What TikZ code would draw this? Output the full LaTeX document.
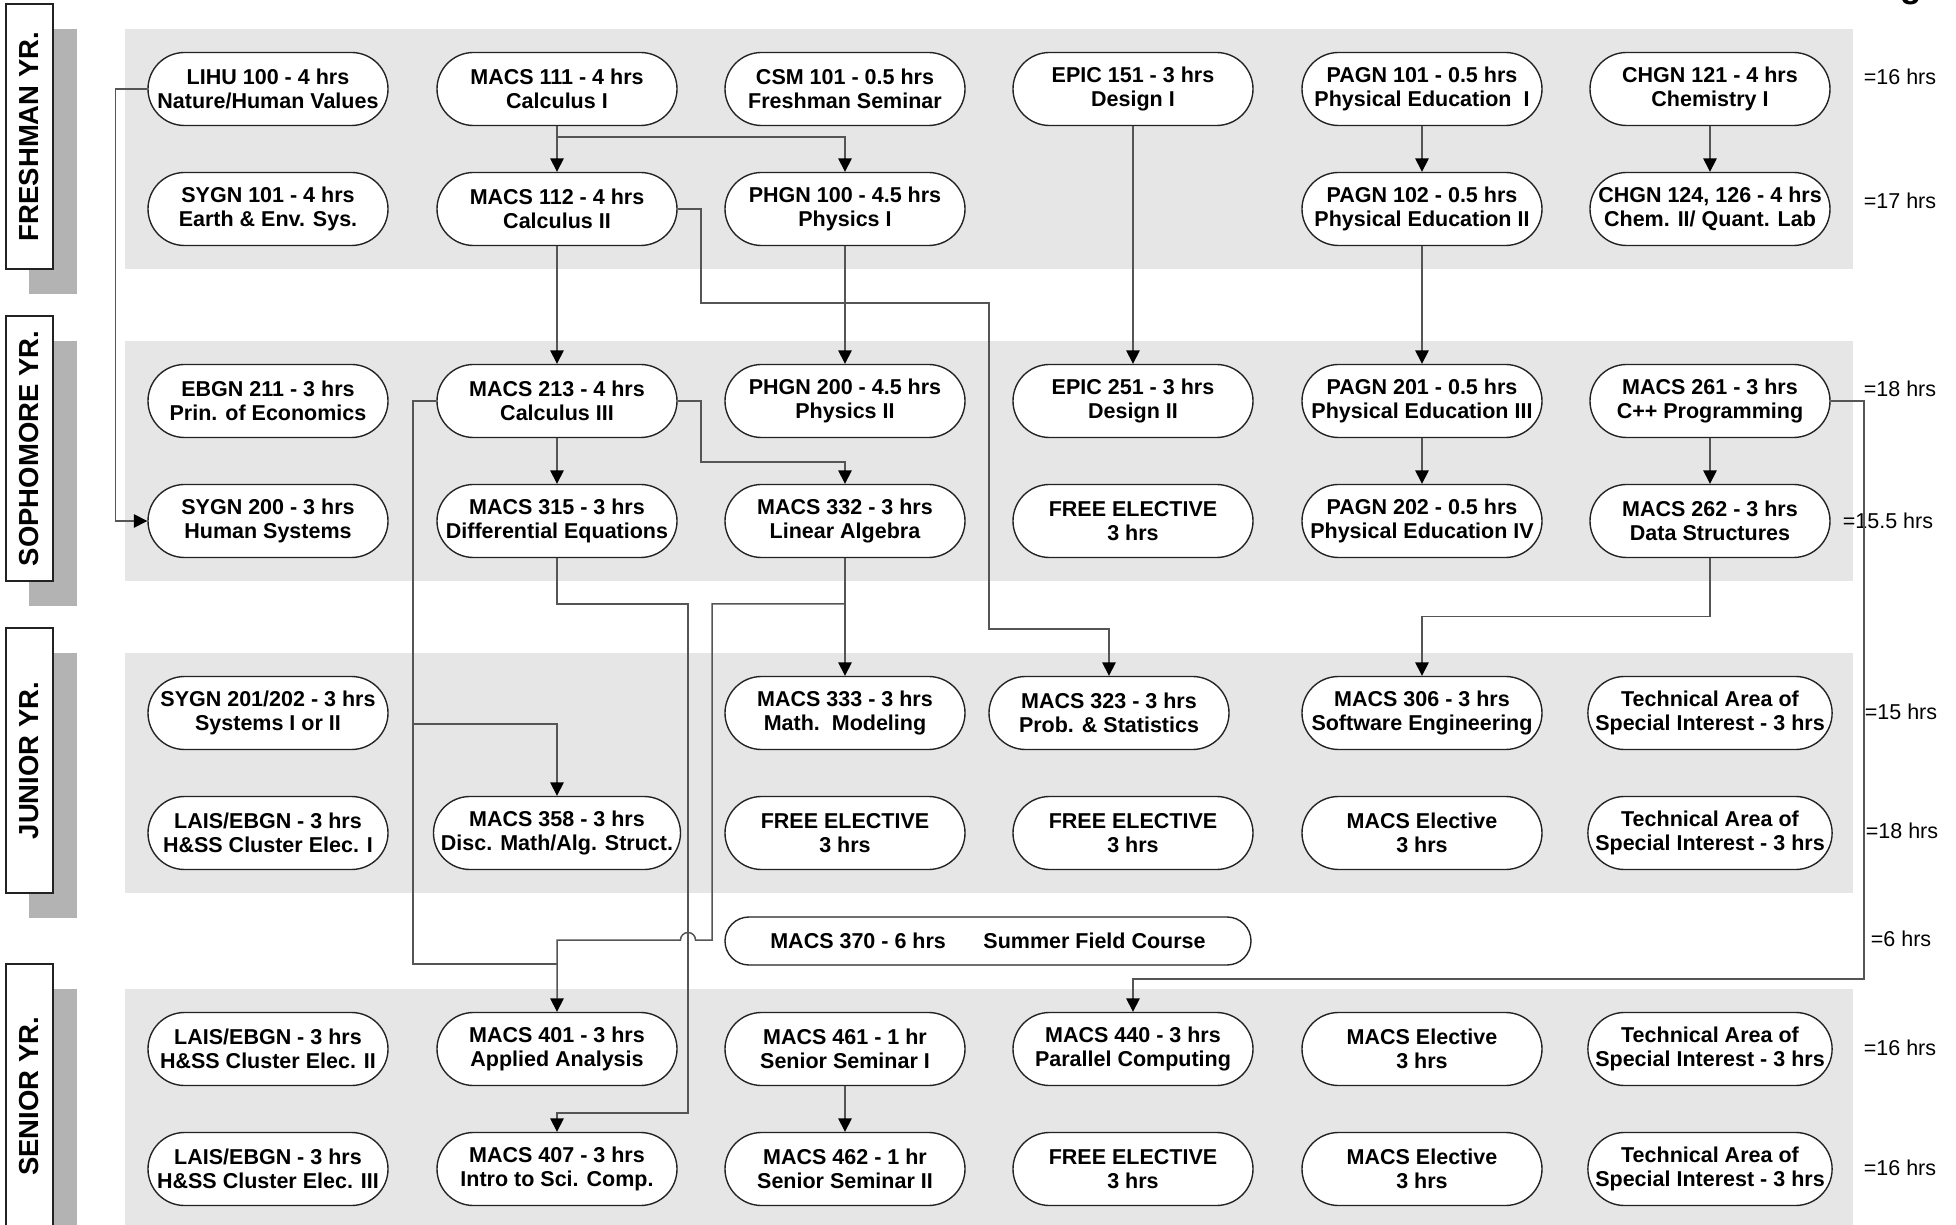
\documentclass[tikz,border=0pt]{standalone}
\usepackage{fontspec}
\setmainfont{Liberation Sans}
\usetikzlibrary{shapes.misc,arrows.meta}
\definecolor{bandgrey}{HTML}{E6E6E6}
\definecolor{shadowgrey}{HTML}{B3B3B3}
\definecolor{linegrey}{HTML}{555555}
\definecolor{nodeline}{HTML}{222222}
\begin{document}
\begin{tikzpicture}[x=0.4pt,y=-0.4pt,
  course/.style={shape=rounded rectangle, draw=nodeline, line width=0.55pt, fill=white,
    minimum width=96pt, minimum height=29.2pt, inner sep=0pt, align=center,
    font=\bfseries\fontsize{8.6}{9.6}\selectfont},
  summer/.style={course, minimum width=210.4pt, minimum height=19.2pt},
  conn/.style={draw=linegrey, line width=0.6pt},
  arr/.style={conn, -{Triangle[length=5.4pt,width=5.4pt,color=black]}},
  hrs/.style={font=\fontsize{8.6}{9.6}\selectfont, inner sep=0pt},
  yearbox/.style={draw=nodeline, fill=white, line width=0.5pt, rotate=90,
    minimum width=106pt, minimum height=18.8pt, inner sep=0pt,
    font=\bfseries\fontsize{11}{12}\selectfont},
  yearshadow/.style={fill=shadowgrey}]

\useasboundingbox (0,0) rectangle (1956,1225);

% title fragment
\node[anchor=base, inner sep=0pt, font=\bfseries\fontsize{14}{16}\selectfont] (gfrag) at (1911,-2) {g};

% bands
\fill[bandgrey] (125,29) rectangle (1853,269);
\fill[bandgrey] (125,341) rectangle (1853,581);
\fill[bandgrey] (125,653) rectangle (1853,893);
\fill[bandgrey] (125,989) rectangle (1853,1229);

% year labels
\fill[yearshadow] (29,29) rectangle (77,294);
\fill[yearshadow] (29,341) rectangle (77,606);
\fill[yearshadow] (29,653) rectangle (77,918);
\fill[yearshadow] (29,989) rectangle (77,1254);
\node[yearbox] (yfr) at (29.5,136.5) {FRESHMAN YR.};
\node[yearbox] (yso) at (29.5,448.5) {SOPHOMORE YR.};
\node[yearbox] (yju) at (29.5,760.5) {JUNIOR YR.};
\node[yearbox] (yse) at (29.5,1096.5) {SENIOR YR.};

% freshman
\node[course] (lihu)    at (268,89)  {LIHU 100 - 4 hrs\\Nature/Human Values};
\node[course] (macs111) at (557,89)  {MACS 111 - 4 hrs\\Calculus I};
\node[course] (csm101)  at (845,89)  {CSM 101 - 0.5 hrs\\Freshman Seminar};
\node[course] (epic151) at (1133,89) {EPIC 151 - 3 hrs\\Design I};
\node[course] (pagn101) at (1422,89) {PAGN 101 - 0.5 hrs\\Physical Education\ \ I};
\node[course] (chgn121) at (1710,89) {CHGN 121 - 4 hrs\\Chemistry I};
\node[course] (sygn101) at (268,209)  {SYGN 101 - 4 hrs\\Earth \& Env. Sys.};
\node[course] (macs112) at (557,209)  {MACS 112 - 4 hrs\\Calculus II};
\node[course] (phgn100) at (845,209)  {PHGN 100 - 4.5 hrs\\Physics I};
\node[course] (pagn102) at (1422,209) {PAGN 102 - 0.5 hrs\\Physical Education II};
\node[course] (chgn124) at (1710,209) {CHGN 124, 126 - 4 hrs\\Chem. II/ Quant. Lab};

% sophomore
\node[course] (ebgn211) at (268,401)  {EBGN 211 - 3 hrs\\Prin. of Economics};
\node[course] (macs213) at (557,401)  {MACS 213 - 4 hrs\\Calculus III};
\node[course] (phgn200) at (845,401)  {PHGN 200 - 4.5 hrs\\Physics II};
\node[course] (epic251) at (1133,401) {EPIC 251 - 3 hrs\\Design II};
\node[course] (pagn201) at (1422,401) {PAGN 201 - 0.5 hrs\\Physical Education III};
\node[course] (macs261) at (1710,401) {MACS 261 - 3 hrs\\C++ Programming};
\node[course] (sygn200) at (268,521)  {SYGN 200 - 3 hrs\\Human Systems};
\node[course] (macs315) at (557,521)  {MACS 315 - 3 hrs\\Differential Equations};
\node[course] (macs332) at (845,521)  {MACS 332 - 3 hrs\\Linear Algebra};
\node[course] (free2)   at (1133,521) {FREE ELECTIVE\\3 hrs};
\node[course] (pagn202) at (1422,521) {PAGN 202 - 0.5 hrs\\Physical Education IV};
\node[course] (macs262) at (1710,521) {MACS 262 - 3 hrs\\Data Structures};

% junior
\node[course] (sygn201) at (268,713)  {SYGN 201/202 - 3 hrs\\Systems I or II};
\node[course] (macs333) at (845,713)  {MACS 333 - 3 hrs\\Math.\ \ Modeling};
\node[course] (macs323) at (1109,713) {MACS 323 - 3 hrs\\Prob. \& Statistics};
\node[course] (macs306) at (1422,713) {MACS 306 - 3 hrs\\Software Engineering};
\node[course] (tech3a)  at (1710,713) {Technical Area of\\Special Interest - 3 hrs};
\node[course] (lais3)   at (268,833)  {LAIS/EBGN - 3 hrs\\H\&SS Cluster Elec. I};
\node[course] (macs358) at (557,833)  {MACS 358 - 3 hrs\\Disc. Math/Alg. Struct.};
\node[course] (free3a)  at (845,833)  {FREE ELECTIVE\\3 hrs};
\node[course] (free3b)  at (1133,833) {FREE ELECTIVE\\3 hrs};
\node[course] (mel3)    at (1422,833) {MACS Elective\\3 hrs};
\node[course] (tech3b)  at (1710,833) {Technical Area of\\Special Interest - 3 hrs};

% summer
\node[summer] (macs370) at (988,941) {MACS 370 - 6 hrs\hspace{15pt}Summer Field Course};

% senior
\node[course] (lais4a)  at (268,1049)  {LAIS/EBGN - 3 hrs\\H\&SS Cluster Elec. II};
\node[course] (macs401) at (557,1049)  {MACS 401 - 3 hrs\\Applied Analysis};
\node[course] (macs461) at (845,1049)  {MACS 461 - 1 hr\\Senior Seminar I};
\node[course] (macs440) at (1133,1049) {MACS 440 - 3 hrs\\Parallel Computing};
\node[course] (mel4a)   at (1422,1049) {MACS Elective\\3 hrs};
\node[course] (tech4a)  at (1710,1049) {Technical Area of\\Special Interest - 3 hrs};
\node[course] (lais4b)  at (268,1169)  {LAIS/EBGN - 3 hrs\\H\&SS Cluster Elec. III};
\node[course] (macs407) at (557,1169)  {MACS 407 - 3 hrs\\Intro to Sci. Comp.};
\node[course] (macs462) at (845,1169)  {MACS 462 - 1 hr\\Senior Seminar II};
\node[course] (free4)   at (1133,1169) {FREE ELECTIVE\\3 hrs};
\node[course] (mel4b)   at (1422,1169) {MACS Elective\\3 hrs};
\node[course] (tech4b)  at (1710,1169) {Technical Area of\\Special Interest - 3 hrs};

% hours
\node[hrs] (h1) at (1900,77)   {=16 hrs};
\node[hrs] (h2) at (1900,201)  {=17 hrs};
\node[hrs] (h3) at (1900,389)  {=18 hrs};
\node[hrs] (h4) at (1888,521)  {=15.5 hrs};
\node[hrs] (h5) at (1901,712)  {=15 hrs};
\node[hrs] (h6) at (1902,831)  {=18 hrs};
\node[hrs] (h7) at (1901,939)  {=6 hrs};
\node[hrs] (h8) at (1900,1048) {=16 hrs};
\node[hrs] (h9) at (1900,1168) {=16 hrs};

% connectors
\draw[arr] (lihu.west) -- ++(-32,0) |- (sygn200.west);

\coordinate (j111) at (557,137);
\draw[conn] (macs111.south) -- (j111);
\draw[arr] (j111) -- (macs112.north);
\draw[arr] (j111) -| (phgn100.north);

\draw[arr] (macs112.east) -| (701,303) -| (989,629) -| (macs323.north);
\draw[arr] (macs112.south) -- (macs213.north);
\draw[arr] (phgn100.south) -- (phgn200.north);
\draw[arr] (epic151.south) -- (epic251.north);
\draw[arr] (pagn101.south) -- (pagn102.north);
\draw[arr] (chgn121.south) -- (chgn124.north);
\draw[arr] (pagn102.south) -- (pagn201.north);
\draw[arr] (pagn201.south) -- (pagn202.north);
\draw[arr] (macs261.south) -- (macs262.north);
\draw[arr] (macs213.south) -- (macs315.north);
\draw[arr] (macs213.east) -| (701,462) -| (macs332.north);

\draw[conn] (macs213.west) -| (413,964) -- (557,964);
\coordinate (j358) at (413,724);
\draw[arr] (j358) -| (macs358.north);

\draw[arr] (macs315.south) |- (688,604) -- (688,1113) -| (macs407.north);

\coordinate (j332) at (845,604);
\draw[conn] (macs332.south) -- (j332);
\draw[arr] (j332) -- (macs333.north);
\draw[arr] (j332) -| (712,940) -- (695.5,940) arc[start angle=0,end angle=180,radius=3pt] -- (557,940) -- (macs401.north);

\draw[arr] (macs262.south) -- ++(0,58.5) -| (macs306.north);
\draw[arr] (macs261.east) -| (1864,979) -| (macs440.north);
\draw[arr] (macs461.south) -- (macs462.north);

\end{tikzpicture}
\end{document}
